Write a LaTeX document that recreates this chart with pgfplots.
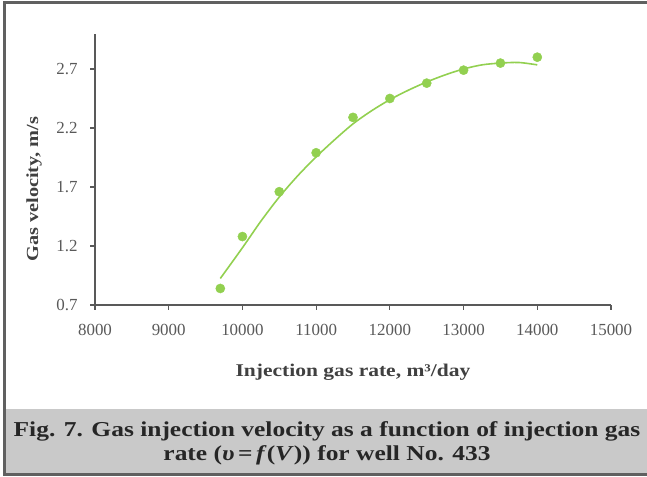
\documentclass[border=0pt]{standalone}
\usepackage{pgfplots}
\pgfplotsset{compat=1.18}
\usepackage{pgfplotstable}
\usepackage{fontspec}
\setmainfont{Liberation Serif}
\newfontfamily\wfont[FakeStretch=1.2]{Liberation Serif}
\definecolor{pgreen}{HTML}{92D050}
\definecolor{axgray}{HTML}{595959}
\definecolor{labgray}{HTML}{404040}
\definecolor{capgray}{HTML}{C9C9C9}
\definecolor{framegray}{HTML}{606060}

\pgfplotstableread{
x y
9700 0.84
10000 1.28
10500 1.66
11000 1.99
11500 2.29
12000 2.45
12500 2.58
13000 2.69
13500 2.75
14000 2.80
}\measured

\pgfplotstableread{
x y
9700 0.925
10000 1.185
10250 1.41
10500 1.615
10750 1.795
11000 1.955
11250 2.10
11500 2.235
11750 2.345
12000 2.44
12250 2.52
12500 2.59
12750 2.65
13000 2.70
13250 2.735
13500 2.75
13750 2.755
14000 2.735
}\trend

\begin{document}
\begin{tikzpicture}[x=1bp,y=1bp]
\useasboundingbox (0,0) rectangle (647,477);
% caption box
\fill[capgray] (6,477-409) rectangle (647,477-473);
\draw[framegray, line width=3bp] (647,477-3) -- (4.5,477-3) -- (4.5,477-474.5) -- (647,477-474.5);
\node[font=\wfont\fontsize{21.3}{24.5}\selectfont\bfseries, text=black!85, align=center] at (327,477-443.5)
  {Fig. 7. Gas injection velocity as a function of injection gas\\
   rate (\textit{υ}\,=\,\textit{f}(\textit{V})) for well No. 433};

\begin{axis}[
  at={(95bp,172bp)}, anchor=south west,
  scale only axis, width=516bp, height=271.4bp,
  xmin=8000, xmax=15000, ymin=0.7, ymax=3.0,
  xtick={8000,9000,...,15000},
  ytick={0.7,1.2,1.7,2.2,2.7},
  scaled ticks=false,
  axis lines*=left,
  axis line style={axgray, line width=1.2bp},
  every tick/.style={axgray, line width=1.2bp},
  tick align=outside, major tick length=5bp,
  tick label style={font=\fontsize{17}{19}\selectfont, text=axgray},
  /pgf/number format/assume math mode=true,
  x tick label style={/pgf/number format/1000 sep={}, yshift=-11bp},
  y tick label style={/pgf/number format/fixed, /pgf/number format/fixed zerofill, /pgf/number format/precision=1, xshift=-9bp},
  xlabel={Injection gas rate, m³/day},
  ylabel={Gas velocity, m/s},
  xlabel style={font=\wfont\fontsize{18}{20}\selectfont\bfseries, text=labgray,
    at={(axis description cs:0.5,-0.247)}, anchor=center},
  ylabel style={font=\wfont\fontsize{17}{19}\selectfont\bfseries, text=labgray,
    at={(axis description cs:-0.118,0.427)}, anchor=center},
  clip=false,
]
\addplot[pgreen, line width=1.6bp, smooth, no markers] table[x=x,y=y] {\trend};
\addplot[only marks, mark=*, mark size=4.6bp, mark options={fill=pgreen, draw=pgreen}] table[x=x,y=y] {\measured};
\end{axis}
\end{tikzpicture}
\end{document}
